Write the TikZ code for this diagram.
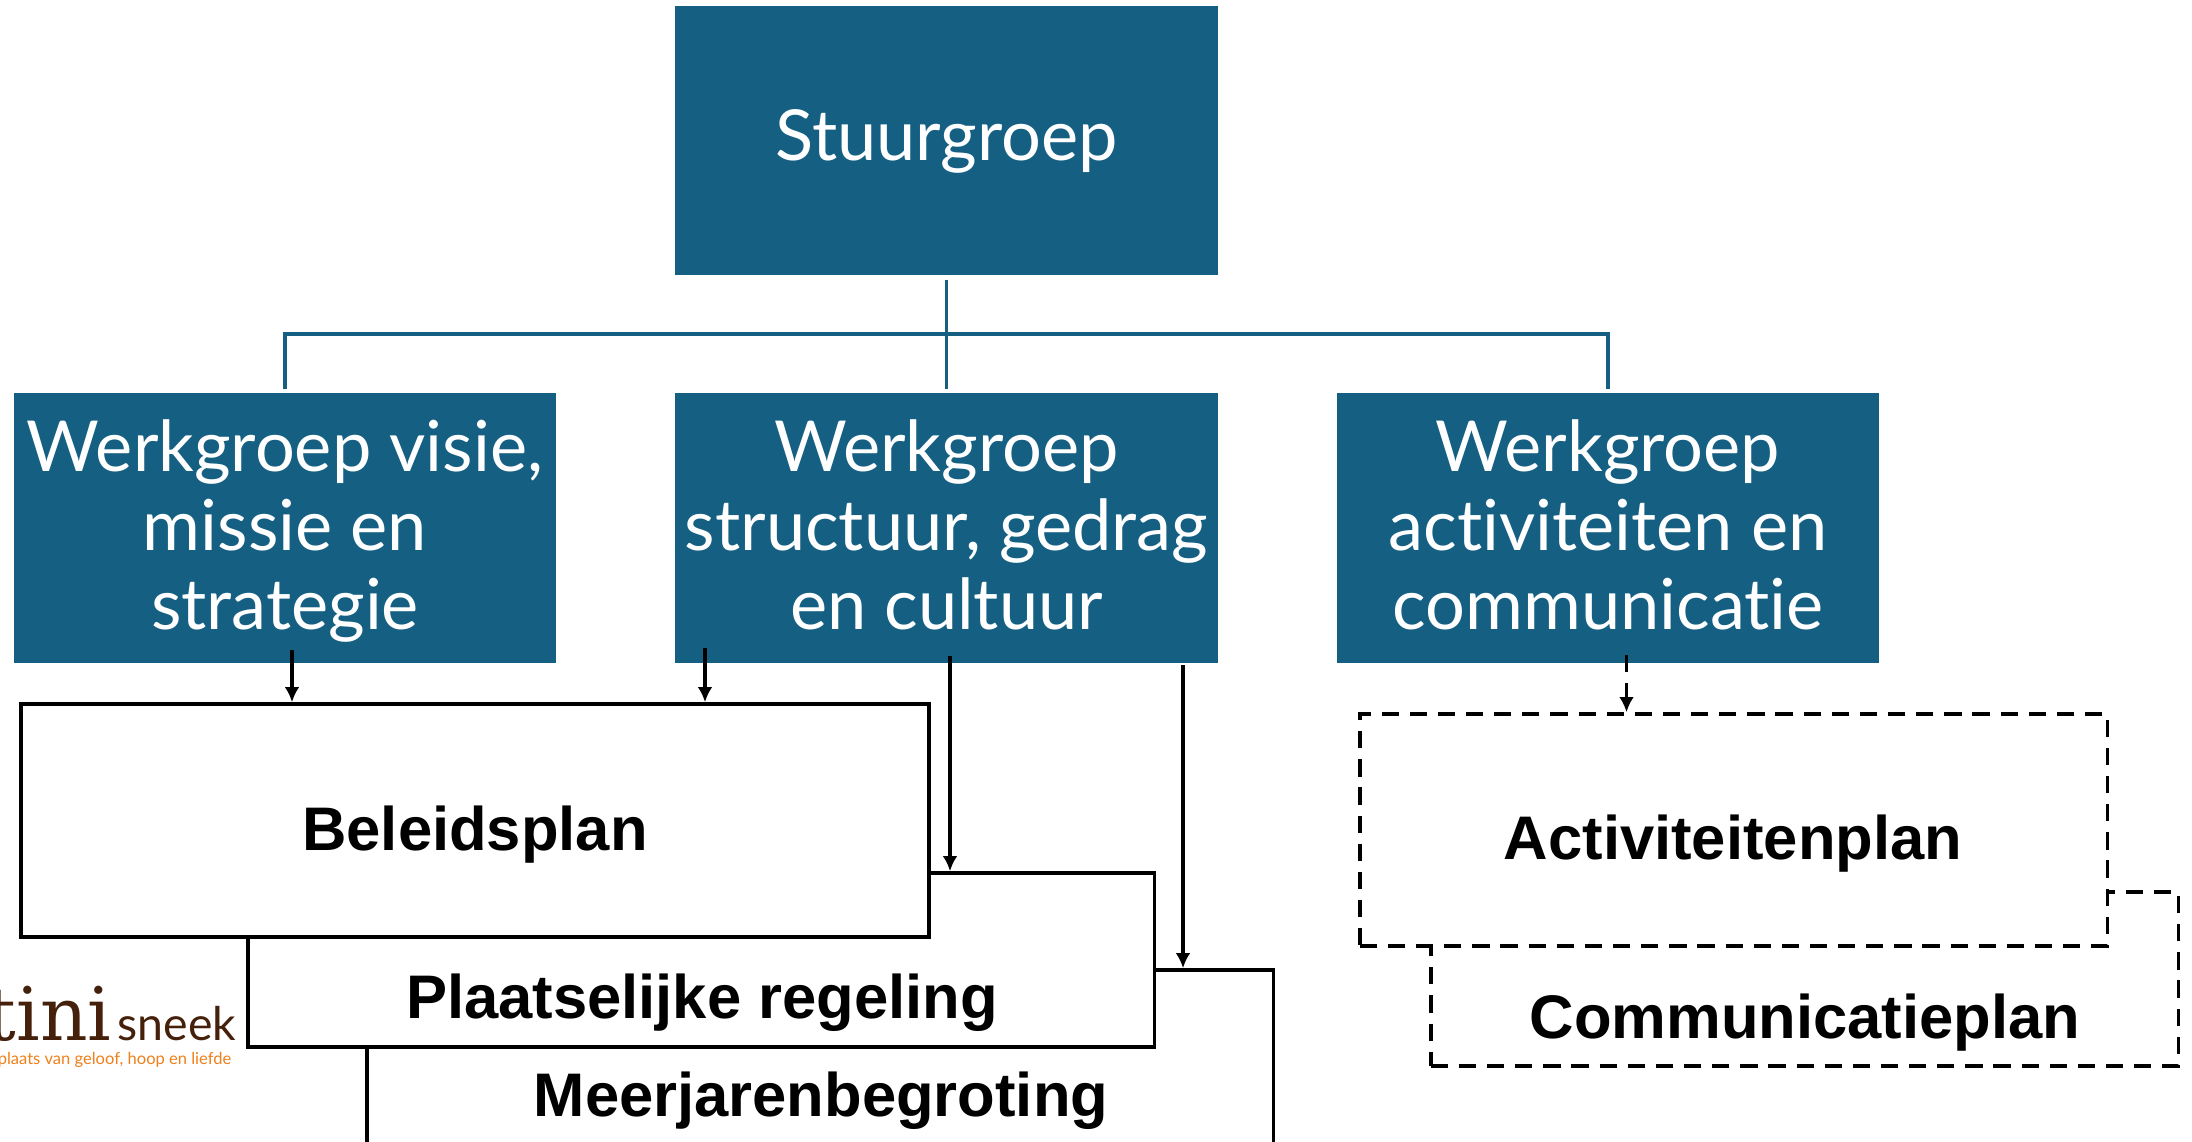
\documentclass[tikz,border=0pt]{standalone}
\usepackage{fontspec}
\usetikzlibrary{calc,arrows.meta}
\setmainfont{Liberation Sans}
\newfontfamily\wgfont[Ligatures=NoCommon]{Lato}
\newfontfamily\logofont{DejaVu Serif}
\definecolor{wgblue}{HTML}{156082}
\definecolor{logobrown}{HTML}{45200A}
\definecolor{logoorange}{HTML}{EE7F1A}
\newcommand{\wgstrut}{\rule[-5.2pt]{0pt}{23.2pt}}
\tikzset{
wgbox/.style={fill=wgblue, text=white, inner sep=0pt, align=center, font=\wgfont\fontsize{20}{22.45}\selectfont},
planbox/.style={draw=black, line width=1pt, fill=white, inner sep=0pt},
plandash/.style={dash pattern=on 4.9pt off 3.1pt},
plantext/.style={font=\bfseries\fontsize{17.5}{20}\selectfont, inner sep=0pt},
orgline/.style={draw=wgblue, line width=1pt},
planline/.style={draw=black, line width=1pt},
}
\begin{document}
\begin{tikzpicture}[x=0.01cm, y=-0.01cm, >={Latex[length=4.3pt,width=4.2pt]}]
\useasboundingbox (0,0) rectangle (2192,1141);
\clip (0,0) rectangle (2192,1141);
% werkgroepen
\node[wgbox, minimum width=5.43cm, minimum height=2.69cm] (P_stuur) at (946.5,140.5) {\rule[-4.4pt]{0pt}{20.4pt}Stuurgroep};
\node[wgbox, minimum width=5.42cm, minimum height=2.70cm] (P_wg_0) at (285,528) {\wgstrut Werkgroep visie,\\missie en\\\wgstrut strategie};
\node[wgbox, minimum width=5.43cm, minimum height=2.70cm] (P_wg_1) at (946.5,528) {\wgstrut Werkgroep\\structuur, gedrag\\\wgstrut en cultuur};
\node[wgbox, minimum width=5.42cm, minimum height=2.70cm] (P_wg_2) at (1608,528) {\wgstrut Werkgroep\\activiteiten en\\\wgstrut communicatie};
\coordinate (P_bus) at (946.5,334);
\draw[orgline] ($(P_stuur.south)+(0,4)$) -- ($(P_wg_1.north)+(0,-3)$);
\draw[orgline] ($(P_wg_0.north)+(0,-3)$) |- (P_bus) -| ($(P_wg_2.north)+(0,-3)$);
% plannen
\node[planbox, minimum width=9.06cm, minimum height=2.52cm] (P_meerjaren) at (820,1096) {};
\node[plantext] (P_meerjaren_t) at (821,1101) {Meerjarenbegroting};
\node[planbox, minimum width=9.06cm, minimum height=1.74cm] (P_regeling) at (701,960) {};
\node[plantext] (P_regeling_t) at (702,1003) {Plaatselijke regeling};
\node[planbox, minimum width=9.07cm, minimum height=2.33cm] (P_beleid) at (475,820.5) {};
\node[plantext] (P_beleid_t) at (475,835) {Beleidsplan};
\node[planbox, plandash, minimum width=7.47cm, minimum height=1.74cm] (P_comm) at (1804.5,979) {};
\node[plantext] (P_comm_t) at (1805,1023) {Communicatieplan};
\node[planbox, plandash, minimum width=7.47cm, minimum height=2.32cm] (P_act) at (1733.5,830) {};
\node[plantext] (P_act_t) at (1733,844) {Activiteitenplan};
% pijlen
\coordinate (P_a_0) at (292,650);
\coordinate (P_a_1) at (705,648);
\coordinate (P_a_2) at (950,656);
\coordinate (P_a_3) at (1183,665);
\coordinate (P_a_4) at (1626.5,655);
\draw[planline, ->] (P_a_0) -- (P_a_0 |- P_beleid.north);
\draw[planline, ->] (P_a_1) -- (P_a_1 |- P_beleid.north);
\draw[planline, ->] (P_a_2) -- (P_a_2 |- P_regeling.north);
\draw[planline, ->] (P_a_3) -- (P_a_3 |- P_meerjaren.north);
\draw[planline, ->, plandash] (P_a_4) -- (P_a_4 |- P_act.north);
% logo
\node[anchor=base east, inner sep=0pt, text=logobrown, font=\logofont\fontsize{21}{21}\selectfont] (P_logo_0) at (112,1040) {tini};
\node[anchor=base west, inner sep=0pt, text=logobrown, font=\wgfont\fontsize{13.2}{14}\selectfont] (P_logo_1) at (117,1040) {sneek};
\node[anchor=base east, inner sep=0pt, text=logoorange, font=\wgfont\fontsize{4.7}{6}\selectfont] (P_logo_2) at (232,1064) {plaats van geloof, hoop en liefde};
\end{tikzpicture}
\end{document}
